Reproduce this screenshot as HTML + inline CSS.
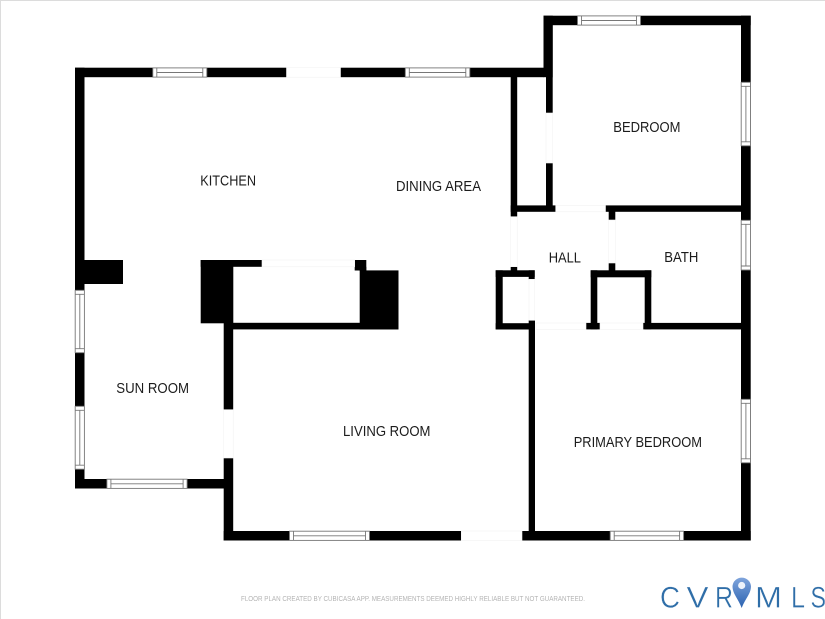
<!DOCTYPE html>
<html><head><meta charset="utf-8"><style>
html,body{margin:0;padding:0;background:#fff}
svg{display:block}
.t{font-family:"Liberation Sans",sans-serif;font-size:14.6px;fill:#1c1c1c}
.w rect{fill:#000}
.d rect{fill:#fff;stroke:#f2f2f2;stroke-width:.6}
.win rect,.win path{fill:#fff;stroke:#777;stroke-width:.9}
.l{font-family:"Liberation Sans",sans-serif;font-size:30px;fill:#2f6ea8;stroke:#fff;stroke-width:.35}
</style></head><body>
<svg width="825" height="619" viewBox="0 0 825 619" xmlns="http://www.w3.org/2000/svg">
<defs><linearGradient id="g" x1="0" y1="0" x2="0" y2="1"><stop offset="0" stop-color="#7fa4dc"/><stop offset="1" stop-color="#2a62b0"/></linearGradient></defs>
<rect width="825" height="619" fill="#fff"/>
<rect x="0" y="0" width="825" height="1" fill="#dcdcdc"/>
<rect x="0" y="0" width="1" height="619" fill="#dcdcdc"/>
<g class="w">
<rect x="75" y="67.7" width="469" height="9.5"/>
<rect x="75" y="67.7" width="9.5" height="223"/>
<rect x="84" y="260" width="39" height="24"/>
<rect x="543.5" y="15.7" width="207.2" height="9.5"/>
<rect x="543.5" y="15.7" width="9.3" height="61.5"/>
<rect x="741" y="15.7" width="9.7" height="204.5"/>
<rect x="741" y="270" width="9.7" height="270.5"/>
<rect x="510.7" y="77" width="6.5" height="139.7"/>
<rect x="546" y="77" width="6.7" height="36"/>
<rect x="546" y="163" width="6.7" height="45"/>
<rect x="510.7" y="205.4" width="45" height="6.4"/>
<rect x="605.5" y="205.4" width="136" height="6.4"/>
<rect x="608.7" y="211" width="6.6" height="9"/>
<rect x="608.7" y="263" width="6.6" height="8"/>
<rect x="590.7" y="270.3" width="60.6" height="7"/>
<rect x="590.7" y="270.3" width="6.6" height="59"/>
<rect x="644.7" y="270.3" width="6.6" height="59"/>
<rect x="586" y="322.9" width="14" height="6.5"/>
<rect x="643" y="322.9" width="98" height="6.5"/>
<rect x="495.7" y="270.3" width="7" height="59"/>
<rect x="495.7" y="270.3" width="39" height="6.6"/>
<rect x="528.7" y="270.3" width="6" height="9"/>
<rect x="510.7" y="266.5" width="6.5" height="5"/>
<rect x="495.7" y="323.2" width="39" height="6.3"/>
<rect x="528.7" y="320.3" width="6.3" height="220"/>
<rect x="223.7" y="531" width="527" height="9.5"/>
<rect x="75" y="352.7" width="9.5" height="53.5"/>
<rect x="75" y="469" width="9.5" height="19.5"/>
<rect x="75" y="479" width="150" height="9.5"/>
<rect x="223.7" y="323" width="9.5" height="86.7"/>
<rect x="223.7" y="458" width="9.5" height="82.5"/>
<rect x="200.7" y="260" width="32.6" height="63.3"/>
<rect x="200.7" y="260" width="61.3" height="6.8"/>
<rect x="354.7" y="260" width="11.6" height="10.5"/>
<rect x="359.7" y="266.8" width="6.6" height="4"/>
<rect x="359.7" y="270.4" width="38.8" height="59"/>
<rect x="233" y="322.8" width="165.5" height="6.6"/>
</g>
<g class="d">
<rect x="286.5" y="67.7" width="54" height="9.5"/>
<rect x="555.7" y="205.4" width="49.8" height="6.4"/>
<rect x="546" y="113" width="6.7" height="50"/>
<rect x="510.7" y="216.7" width="6.5" height="50"/>
<rect x="608.7" y="220" width="6.6" height="43"/>
<rect x="529" y="279.3" width="5.7" height="41"/>
<rect x="536" y="323" width="50" height="6.4"/>
<rect x="600" y="323" width="43" height="6.4"/>
<rect x="262" y="260" width="92.7" height="6.8"/>
<rect x="461.3" y="531" width="60.7" height="9.5"/>
<rect x="223.7" y="409.7" width="9.5" height="48.3"/>
</g>
<g class="win">
<rect x="152.8" y="67.9" width="54" height="9.2"/><path d="M156.8 68V77M202.8 68V77M156.8 72.5H202.8"/>
<rect x="405.3" y="67.9" width="64.5" height="9.2"/><path d="M409.3 68V77M465.8 68V77M409.3 72.5H465.8"/>
<rect x="577.5" y="15.9" width="63" height="9.2"/><path d="M581.5 16V25M636.5 16V25M581.5 20.5H636.5"/>
<rect x="106.9" y="479.2" width="80.2" height="9.2"/><path d="M110.9 479V488M183.1 479V488M110.9 483.8H183.1"/>
<rect x="289.5" y="531.2" width="80" height="9.2"/><path d="M293.5 531V540M365.5 531V540M293.5 535.8H365.5"/>
<rect x="610.2" y="531.2" width="73.4" height="9.2"/><path d="M614.2 531V540M679.6 531V540M614.2 535.8H679.6"/>
<rect x="741.2" y="82.3" width="9.3" height="63.5"/><path d="M741 86.3H750.5M741 141.8H750.5M745.9 86.3V141.8"/>
<rect x="741.2" y="220.3" width="9.3" height="49.7"/><path d="M741 224.3H750.5M741 266H750.5M745.9 224.3V266"/>
<rect x="741.2" y="399.3" width="9.3" height="63.5"/><path d="M741 403.3H750.5M741 458.8H750.5M745.9 403.3V458.8"/>
<rect x="75.2" y="290.3" width="9.2" height="62.4"/><path d="M75 294.3H84.5M75 348.7H84.5M79.8 294.3V348.7"/>
<rect x="75.2" y="406.3" width="9.2" height="62.9"/><path d="M75 410.3H84.5M75 465.2H84.5M79.8 410.3V465.2"/>
</g>
<text class="t" x="200.3" y="185.3" textLength="55.7" lengthAdjust="spacingAndGlyphs">KITCHEN</text>
<text class="t" x="396" y="190.8" textLength="85" lengthAdjust="spacingAndGlyphs">DINING AREA</text>
<text class="t" x="613.3" y="131.8" textLength="67.2" lengthAdjust="spacingAndGlyphs">BEDROOM</text>
<text class="t" x="548.7" y="262.5" textLength="32.3" lengthAdjust="spacingAndGlyphs">HALL</text>
<text class="t" x="664.3" y="261.8" textLength="34" lengthAdjust="spacingAndGlyphs">BATH</text>
<text class="t" x="116.3" y="393.1" textLength="72.7" lengthAdjust="spacingAndGlyphs">SUN ROOM</text>
<text class="t" x="343" y="435.8" textLength="87.5" lengthAdjust="spacingAndGlyphs">LIVING ROOM</text>
<text class="t" x="573.7" y="446.8" textLength="128.3" lengthAdjust="spacingAndGlyphs">PRIMARY BEDROOM</text>
<text x="241" y="600.8" textLength="344" lengthAdjust="spacingAndGlyphs" font-family="Liberation Sans, sans-serif" font-size="7.6" fill="#b4b4b4">FLOOR PLAN CREATED BY CUBICASA APP. MEASUREMENTS DEEMED HIGHLY RELIABLE BUT NOT GUARANTEED.</text>
<text class="l" x="660" y="607.7" textLength="20" lengthAdjust="spacingAndGlyphs">C</text>
<text class="l" x="686.5" y="607.7" textLength="22" lengthAdjust="spacingAndGlyphs">V</text>
<text class="l" x="715" y="607.7" textLength="18" lengthAdjust="spacingAndGlyphs">R</text>
<text class="l" x="755" y="607.7" textLength="27" lengthAdjust="spacingAndGlyphs">M</text>
<text class="l" x="791" y="607.7" textLength="14" lengthAdjust="spacingAndGlyphs">L</text>
<text class="l" x="810.5" y="607.7" textLength="15.5" lengthAdjust="spacingAndGlyphs">S</text>
<path d="M741.7 608 C738 598 732.5 594 732.5 586 A9.3 9.3 0 0 1 751 586 C751 594 745.5 598 741.7 608Z" fill="url(#g)"/>
<circle cx="741.7" cy="585.5" r="3.6" fill="#eef3fb"/>
</svg>
</body></html>
